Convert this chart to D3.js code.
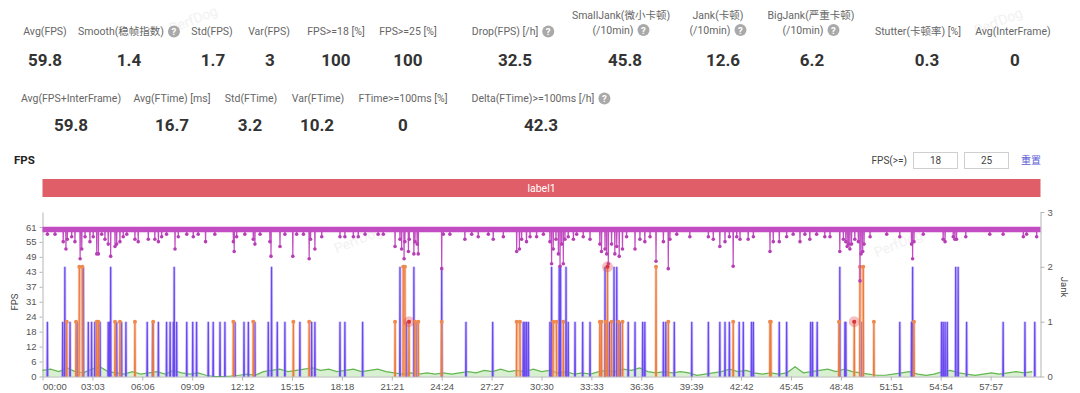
<!DOCTYPE html>
<html>
<head>
<meta charset="utf-8">
<script src="https://cdn.jsdelivr.net/npm/d3@7"></script>
<style>
  body { margin: 0; background: #fff; }
  svg { display: block; font-family: Roboto, "Noto Sans CJK SC", sans-serif; }
</style>
</head>
<body>
<svg id="chart" width="1080" height="393"></svg>
<script>
// ---- summary numbers ----
const statLabels1 = [['Avg(FPS)'], ['Smooth(稳帧指数)'], ['Std(FPS)'], ['Var(FPS)'], ['FPS>=18 [%]'], ['FPS>=25 [%]'],
  ['Drop(FPS) [/h]'], ['SmallJank(微小卡顿)', '(/10min)'], ['Jank(卡顿)', '(/10min)'], ['BigJank(严重卡顿)', '(/10min)'],
  ['Stutter(卡顿率) [%]'], ['Avg(InterFrame)']];
const statValues1 = ['59.8', '1.4', '1.7', '3', '100', '100', '32.5', '45.8', '12.6', '6.2', '0.3', '0'];
const statHelp1 = [false, true, false, false, false, false, true, true, true, true, false, false];

const statLabels2 = [['Avg(FPS+InterFrame)'], ['Avg(FTime) [ms]'], ['Std(FTime)'], ['Var(FTime)'], ['FTime>=100ms [%]'], ['Delta(FTime)>=100ms [/h]']];
const statValues2 = ['59.8', '16.7', '3.2', '10.2', '0', '42.3'];
const statHelp2 = [false, false, false, false, false, true];

const fpsThresholds = ['18', '25'];
const labelBars = [{ name: 'label1', start: 0, end: 3660 }];

// ---- chart data (time in seconds) ----
const duration = 3660;
const xTickLabels = ['00:00', '03:03', '06:06', '09:09', '12:12', '15:15', '18:18', '21:21', '24:24', '27:27',
  '30:30', '33:33', '36:36', '39:39', '42:42', '45:45', '48:48', '51:51', '54:54', '57:57'];
const fpsTicks = [0, 6.1, 12.2, 18.3, 24.4, 30.5, 36.6, 42.7, 48.8, 54.9, 61];
const jankTicks = [0, 1, 2, 3];

const fpsBaseline = 60;
// [second, fps] where the fps falls below the baseline
const fpsDips = [
  [18,58],[46,58],[76,55],[86,52],[91,56],[107,57],[119,55],[138,48],[144,52],[156,57],[174,55],[186,57],[199,50],[205,50],
  [217,58],[229,56],[241,54],[250,49],[266,53],[272,54],[284,55],[296,57],[309,58],[339,56],[351,55],[388,56],[412,56],
  [425,55],[437,57],[455,58],[486,52],[498,57],[529,58],[553,57],[571,58],[598,55],[632,58],[700,55],[703,51],[712,57],
  [742,58],[773,56],[779,54],[798,58],[834,55],[838,49],[871,53],[889,58],[918,49],
  [932,58],[957,58],[978,48],[983,56],[999,52],[1024,57],[1091,57],[1109,57],[1140,57],[1158,57],[1183,58],[1231,58],
  [1250,58],[1293,53],[1311,56],[1317,52],[1326,48],[1329,55],[1342,51],[1345,56],[1362,50],[1366,55],[1374,54],[1378,50],
  [1464,44],[1470,58],[1494,58],[1549,56],[1574,58],[1598,57],[1635,58],[1653,56],[1690,57],[1739,51],[1749,52],[1757,56],
  [1775,55],[1788,57],[1812,57],[1837,58],
  [1861,55],[1867,46],[1873,52],[1883,56],[1892,50],[1898,45],[1904,54],[1910,46],[1916,56],[1928,57],[1947,56],[1959,58],
  [1983,57],[2008,56],[2044,54],[2050,51],[2063,52],[2069,50],[2075,46],[2087,54],[2099,50],[2106,53],[2115,49],[2127,52],
  [2142,57],[2173,52],[2191,56],[2209,55],[2228,57],[2250,47],[2277,55],[2295,44],[2301,56],[2326,58],[2374,57],[2442,57],
  [2460,56],[2484,53],[2503,55],[2519,57],[2533,45],[2546,57],[2558,56],[2588,56],[2607,57],[2668,51],[2680,55],[2702,55],
  [2729,57],[2753,58],
  [2778,55],[2796,58],[2814,56],[2839,58],[2869,57],[2888,57],[2924,51],[2937,56],[2946,55],[2951,53],[2956,54],[2961,52],
  [2967,54],[2979,56],[2992,55],[2998,39],[3002,50],[3008,51],[3013,54],[3035,57],[3096,58],[3144,57],[3187,54],[3191,48],
  [3196,55],[3230,58],[3303,56],[3310,55],[3340,57],[3346,56],[3352,56],[3386,57],[3474,58],[3523,58],[3597,57],[3609,58],
  [3646,57]
];

// [second, jank count, plateau length]
const jankSpikes = [
  [18,1],[74,1],[82,2],[101,1],[127,1],[150,2],[168,1],[180,1],[192,1],[211,1],[241,1],[246,1],[250,2],[272,1],[290,1],
  [306,1],[384,1],[404,1],[425,1],[455,1],[468,1],[480,1],[483,2],[492,1],[529,1],[551,1],[565,1],[608,1],[626,1],[651,1],
  [669,1],[706,1],[739,1],[755,1],[779,1],[828,1],[840,2],[861,1],[889,1],
  [944,1],[987,1],[999,1],[1091,1],[1109,1],[1174,1],[1311,2],[1335,1],[1362,2],[1372,1],[1464,2],[1553,1],[1651,1],
  [1763,1],[1769,1],[1775,1],[1782,1],
  [1861,1],[1867,2],[1895,2],[1900,2],[1920,2],[1928,1],[1953,1],[1981,1],[2008,1],[2063,2],[2079,1],[2096,2],[2106,2],
  [2118,1],[2148,1],[2173,1],[2201,1],[2209,1],[2277,1],[2286,1],[2317,1],[2381,1],[2442,1],[2484,1],[2503,1],[2519,1],
  [2555,1],[2570,1],[2600,1],[2607,1],[2702,1],[2729,1],
  [2817,1],[2824,1],[2841,1],[2924,2],[2943,1],[2946,1],[3004,1],[3144,1],[3187,1],[3191,2],[3297,1],[3303,1],[3310,1],
  [3318,1],[3349,2],[3358,2],[3389,1],[3523,1],[3603,1],[3639,1]
];
const bigJankSpikes = [
  [89,1],[123,1],[135,2,11],[199,1],[205,1],[266,1],[284,1],[339,1],[406,1],[700,1],[773,1],[920,1],
  [978,1],[1293,1],[1323,2,6],[1344,1],[1366,1,12],[1464,1],[1739,1,12],
  [1873,1,12],[1910,1],[2044,1],[2050,1],[2066,1],[2072,2],[2087,1],[2112,1],[2127,1],[2250,2],[2295,1],[2533,1],[2668,1,3],
  [2921,1],[2977,1],[2998,2,12],[3049,1],[3196,1]
];
const jankMarks = [[1344, 1], [2072, 2], [2977, 1]];

// low series near the floor, one value every 30 s
const lowStep = 30;
const lowSeries = [
  2.5,3,2,3.5,2,1.5,3,4,2,1.5,1,2,1,1.5,2,1,2.5,1.5,1,1.5,0.5,0,0,0.2,0.5,1,0.5,2,2.5,3,2,2.5,3,3.5,2.5,3,2,2.5,3,2,
  2.5,3,2,1.5,1,1.5,1,1.5,1,1.5,1,1.5,2,1.5,2.5,2,3,2,2.5,2,3,
  2,2.5,1.5,2,1,1.5,1,2,2.5,2,3,2.5,3.5,2,1.5,2,1.5,2,1.5,0.5,1,1.5,2,3,2,2.5,1.5,1,1.5,1,1.5,4,1.5,2,2.5,3,2,3,2,1.5,
  1,0.5,0.5,1,1.5,2,1,0.5,1,2,2.5,1.5,1,0.5,1,1.5,1,1.5,2,1.5,2
];

const svg = d3.select('#chart');

// faint watermarks
[[195, 24], [1000, 26], [360, 244], [900, 248]].forEach(([wx, wy]) => {
  svg.append('text').attr('x', wx).attr('y', wy)
    .attr('transform', `rotate(-22,${wx},${wy})`)
    .attr('text-anchor', 'middle').attr('font-size', 14)
    .attr('fill', '#f2f2f2').text('PerfDog');
});

// ---- summary rows ----
function helpIcon(g, cx, cy) {
  g.append('circle').attr('cx', cx).attr('cy', cy).attr('r', 6).attr('fill', '#a9a9a9');
  g.append('text').attr('x', cx).attr('y', cy + 3.5).attr('text-anchor', 'middle')
    .attr('font-size', 9.5).attr('font-weight', 700).attr('fill', '#fff').text('?');
}

function drawRow(labels, values, help, labelX, valueX, oneLineY, twoLineY, valueY) {
  labels.forEach((lines, i) => {
    const ys = lines.length === 1 ? [oneLineY] : twoLineY;
    lines.forEach((line, j) => {
      const g = svg.append('g');
      const t = g.append('text').attr('y', ys[j]).attr('font-size', 10.5).attr('fill', '#666').text(line);
      const w = t.node().getComputedTextLength();
      const withIcon = help[i] && j === lines.length - 1;
      const total = w + (withIcon ? 16 : 0);
      const x0 = labelX[i] - total / 2;
      t.attr('x', x0);
      if (withIcon) helpIcon(g, x0 + w + 10, ys[j] - 3.5);
    });
    svg.append('text').attr('x', valueX[i]).attr('y', valueY).attr('text-anchor', 'middle')
      .attr('font-size', 17).attr('font-weight', 700).attr('fill', '#333').text(values[i]);
  });
}

drawRow(statLabels1, statValues1, statHelp1,
  [45, 129, 212, 269, 336, 408, 513, 621, 718, 811, 918, 1013],
  [45, 129, 213, 270, 336, 408, 515, 625, 723, 812, 927, 1015],
  35, [19, 33.5], 66);
drawRow(statLabels2, statValues2, statHelp2,
  [71, 172, 251, 318, 403, 541],
  [71, 172, 250, 317, 403, 541],
  102, [], 131);

// ---- chart header ----
svg.append('text').attr('x', 14).attr('y', 164).attr('font-size', 11.5).attr('font-weight', 700)
  .attr('fill', '#222').text('FPS');
svg.append('text').attr('x', 907).attr('y', 164).attr('text-anchor', 'end').attr('font-size', 10)
  .attr('fill', '#444').text('FPS(>=)');
fpsThresholds.forEach((v, i) => {
  const bx = 913 + i * 51;
  svg.append('rect').attr('x', bx + 0.5).attr('y', 152.5).attr('width', 44).attr('height', 16)
    .attr('fill', '#fff').attr('stroke', '#cfcfcf');
  svg.append('text').attr('x', bx + 22.5).attr('y', 164).attr('text-anchor', 'middle')
    .attr('font-size', 10).attr('fill', '#444').text(v);
});
svg.append('text').attr('x', 1021).attr('y', 164).attr('font-size', 10).attr('fill', '#5c5cd8').text('重置');

// ---- scales ----
const x = d3.scaleLinear().domain([0, duration]).range([42.5, 1040.5]);
const yFps = d3.scaleLinear().domain([0, 67.1]).range([376.5, 212]);
const yJank = d3.scaleLinear().domain([0, 3]).range([376.5, 212]);

// label bar
labelBars.forEach(b => {
  svg.append('rect').attr('x', x(b.start)).attr('y', 179).attr('width', x(b.end) - x(b.start)).attr('height', 18)
    .attr('fill', '#e05e67');
  svg.append('text').attr('x', (x(b.start) + x(b.end)) / 2).attr('y', 191.5).attr('text-anchor', 'middle')
    .attr('font-size', 10.5).attr('fill', '#fff').text(b.name);
});

// ---- axes ----
const xTickSeconds = xTickLabels.map(s => +s.slice(0, 2) * 60 + +s.slice(3));
const xAxis = svg.append('g').attr('transform', 'translate(0,376.5)')
  .call(d3.axisBottom(x).tickValues(xTickSeconds).tickFormat((d, i) => xTickLabels[i]).tickSize(4).tickSizeOuter(0));
const yAxisL = svg.append('g').attr('transform', 'translate(42.5,0)')
  .call(d3.axisLeft(yFps).tickValues(fpsTicks).tickFormat(d => Math.round(d)).tickSize(3).tickSizeOuter(0));
const yAxisR = svg.append('g').attr('transform', 'translate(1040.5,0)')
  .call(d3.axisRight(yJank).tickValues(jankTicks).tickFormat(d3.format('d')).tickSize(4).tickSizeOuter(0));
[xAxis, yAxisL, yAxisR].forEach(a => {
  a.selectAll('path.domain').attr('stroke', '#b5b5b5');
  a.selectAll('.tick line').attr('stroke', '#b5b5b5');
  a.selectAll('text').attr('font-size', 9.5).attr('fill', '#555');
});
xAxis.selectAll('text').attr('y', 13).attr('dy', 0);
xAxis.select('.tick text').attr('text-anchor', 'start').attr('x', 0);

svg.append('text').attr('transform', 'translate(18,302) rotate(-90)').attr('text-anchor', 'middle')
  .attr('font-size', 9.5).attr('fill', '#444').text('FPS');
svg.append('text').attr('transform', 'translate(1061,287) rotate(90)').attr('text-anchor', 'middle')
  .attr('font-size', 9.5).attr('fill', '#444').text('Jank');

const plot = svg.append('g');

// low green series
const lowArea = d3.area().x((d, i) => x(i * lowStep)).y0(yFps(0)).y1(d => yFps(d));
plot.append('path').datum(lowSeries).attr('d', lowArea)
  .attr('fill', '#8fd17f').attr('fill-opacity', 0.35);
plot.append('path')
  .datum(lowSeries)
  .attr('d', d3.line().x((d, i) => x(i * lowStep)).y(d => yFps(d)))
  .attr('fill', 'none').attr('stroke', '#62b84f').attr('stroke-width', 1.2);

// jank spikes
const spikeLine = d3.line().x(d => x(d[0])).y(d => yJank(d[1]));
function spikePoints([t, v, len = 0]) {
  return [[t - 1, 0], [t, v], [t + len, v], [t + len + 1, 0]];
}
function drawSpikes(list, color, halo) {
  const g = plot.append('g');
  g.selectAll('path.halo').data(list).join('path').attr('class', 'halo')
    .attr('d', d => spikeLine(spikePoints(d)))
    .attr('fill', halo).attr('fill-opacity', 0.45)
    .attr('stroke', halo).attr('stroke-width', 3).attr('stroke-opacity', 0.45);
  g.selectAll('path.core').data(list).join('path').attr('class', 'core')
    .attr('d', d => spikeLine(spikePoints(d)))
    .attr('fill', 'none').attr('stroke', color).attr('stroke-width', 1.3);
  return g;
}
drawSpikes(jankSpikes, '#6a49f0', '#a996f6');
const big = drawSpikes(bigJankSpikes, '#ec7a3c', '#f2a57c');
big.selectAll('circle')
  .data(bigJankSpikes.flatMap(([t, v, len = 0]) => len ? [[t, v], [t + len, v]] : [[t, v]]))
  .join('circle')
  .attr('cx', d => x(d[0])).attr('cy', d => yJank(d[1])).attr('r', 2)
  .attr('fill', '#ef8a4e');

// FPS line: baseline band plus dips
const fpsLine = d3.line().x(d => x(d[0])).y(d => yFps(d[1]));
plot.append('path')
  .datum([[0, fpsBaseline], [duration, fpsBaseline]])
  .attr('d', fpsLine)
  .attr('fill', 'none').attr('stroke', '#c24cc2').attr('stroke-width', 5.5);
plot.selectAll('path.dip').data(fpsDips).join('path').attr('class', 'dip')
  .attr('d', ([t, v]) => fpsLine([[t - 1, fpsBaseline], [t, v], [t + 1, fpsBaseline]]))
  .attr('fill', 'none').attr('stroke', '#c24cc2').attr('stroke-width', 1.2);
plot.selectAll('circle.dip').data(fpsDips).join('circle').attr('class', 'dip')
  .attr('cx', d => x(d[0])).attr('cy', d => yFps(d[1])).attr('r', 1.8)
  .attr('fill', '#b63fb6');

// highlighted jank points
const marks = plot.selectAll('g.mark').data(jankMarks).join('g').attr('class', 'mark')
  .attr('transform', d => `translate(${x(d[0])},${yJank(d[1])})`);
marks.append('circle').attr('r', 5.5).attr('fill', '#e4484c').attr('fill-opacity', 0.35);
marks.append('circle').attr('r', 2).attr('fill', '#d9363b');
</script>
</body>
</html>
